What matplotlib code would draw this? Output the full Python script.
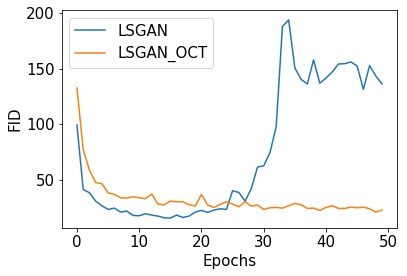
import matplotlib
matplotlib.use("Agg")
import matplotlib.pyplot as plt
import numpy as np

epochs = list(range(50))
lsgan = [99.4, 41.4, 38.4, 30.9, 26.7, 23.4, 24.6, 21.0, 21.9, 18.0,
         17.7, 19.5, 18.3, 17.4, 15.9, 15.6, 18.3, 16.2, 17.4, 21.0,
         22.5, 20.7, 22.8, 24.0, 23.4, 40.2, 38.7, 30.9, 42.0, 61.5,
         62.7, 74.5, 97.9, 188.0, 194.0, 150.7, 140.5, 136.3, 158.0, 137.0,
         141.7, 147.1, 154.3, 154.6, 156.1, 152.5, 131.5, 152.8, 143.5, 136.3]
lsgan_oct = [132.7, 77.5, 58.8, 47.7, 46.5, 38.4, 36.9, 33.9, 33.6, 34.8,
             33.9, 33.0, 37.2, 28.2, 27.6, 30.9, 30.3, 30.3, 27.6, 26.4,
             36.9, 27.3, 25.2, 27.9, 30.3, 28.2, 25.8, 30.3, 26.4, 27.3,
             23.4, 24.9, 25.2, 24.6, 26.7, 28.8, 27.6, 24.3, 24.6, 22.5,
             25.2, 26.7, 24.3, 24.3, 25.5, 24.9, 25.5, 24.0, 21.0, 22.8]

fs = 15
W, H = 407, 276
fig = plt.figure(figsize=(W / 72, H / 72), dpi=72)
ax = fig.add_axes([61.7 / W, 1 - 228 / H, (397.3 - 61.7) / W, (228 - 10) / H])
ax.plot(epochs, lsgan, color='#1f77b4', label='LSGAN', linewidth=1.5)
ax.plot(epochs, lsgan_oct, color='#ff7f0e', label='LSGAN_OCT', linewidth=1.5)
ax.set_xlabel('Epochs', fontsize=fs)
ax.set_ylabel('FID', fontsize=fs)
ax.set_xticks([0, 10, 20, 30, 40, 50])
ax.set_yticks([50, 100, 150, 200])
ax.tick_params(labelsize=fs)
ax.legend(loc='upper left', fontsize=fs)
fig.savefig('out.png', dpi=72)
